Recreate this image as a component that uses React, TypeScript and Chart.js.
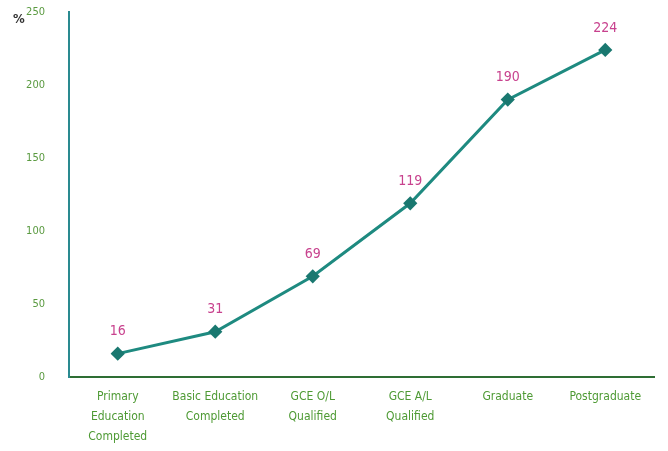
import React, { useEffect, useRef } from "react";
import { Chart, registerables } from "chart.js";

Chart.register(...registerables);

const categories: string[][] = [
  ["Primary", "Education", "Completed"],
  ["Basic Education", "Completed"],
  ["GCE O/L", "Qualified"],
  ["GCE A/L", "Qualified"],
  ["Graduate"],
  ["Postgraduate"],
];
const values: number[] = [16, 31, 69, 119, 190, 224];
const yTicks: number[] = [0, 50, 100, 150, 200, 250];
const unitLabel = "%";

const FONT = "'DejaVu Sans Condensed', 'Liberation Sans Narrow', sans-serif";

const labelPlugin = {
  id: "valueLabels",
  afterDatasetsDraw(chart: any) {
    const ctx = chart.ctx;
    const meta = chart.getDatasetMeta(0);
    ctx.save();
    ctx.fillStyle = "#c8428e";
    ctx.font = `14px ${FONT}`;
    ctx.textAlign = "center";
    ctx.textBaseline = "bottom";
    meta.data.forEach((pt: any, i: number) => {
      ctx.fillText(String(values[i]), pt.x, pt.y - 15);
    });
    ctx.fillStyle = "#333";
    ctx.font = `bold 13px ${FONT}`;
    ctx.textAlign = "left";
    ctx.textBaseline = "middle";
    ctx.fillText(unitLabel, 13, 20);
    ctx.restore();
  },
};

export default function App() {
  const ref = useRef<HTMLCanvasElement>(null);
  useEffect(() => {
    if (!ref.current) return;
    const chart = new Chart(ref.current, {
      type: "line",
      data: {
        labels: categories,
        datasets: [
          {
            data: values,
            borderColor: "#1e8a80",
            backgroundColor: "#1a7870",
            borderWidth: 3,
            pointStyle: "rectRot",
            pointRadius: 5,
            pointBackgroundColor: "#1a7870",
            pointBorderColor: "#1a7870",
            tension: 0,
          },
        ],
      },
      options: {
        animation: false,
        responsive: false,
        maintainAspectRatio: false,
        layout: { padding: { top: 12, right: 14, left: 0, bottom: 0 } },
        plugins: { legend: { display: false }, tooltip: { enabled: false } },
        scales: {
          x: {
            offset: true,
            grid: { display: false },
            border: { color: "#2e6e34", width: 2 },
            ticks: {
              color: "#4e9a34",
              font: { family: FONT, size: 12, lineHeight: 1.65 },
              maxRotation: 0,
              padding: 2,
            },
            afterFit: (s: any) => {
              s.height = 74;
              s.paddingLeft = 0;
              s.paddingRight = 0;
            },
          },
          y: {
            min: 0,
            max: 250,
            afterBuildTicks: (s: any) => {
              s.ticks = yTicks.map((v) => ({ value: v }));
            },
            grid: { display: false },
            border: { color: "#2a8a90", width: 2 },
            ticks: {
              color: "#5a9a40",
              font: { family: FONT, size: 11 },
              padding: 16,
            },
            afterFit: (s: any) => {
              s.width = 69;
              s.paddingTop = 0;
              s.paddingBottom = 0;
            },
          },
        },
      },
      plugins: [labelPlugin],
    });
    return () => chart.destroy();
  }, []);
  return (
    <div style={{ position: "absolute", left: 0, top: 0, width: 668, height: 451, background: "#fff" }}>
      <canvas ref={ref} width={668} height={451} style={{ width: 668, height: 451 }} />
    </div>
  );
}
